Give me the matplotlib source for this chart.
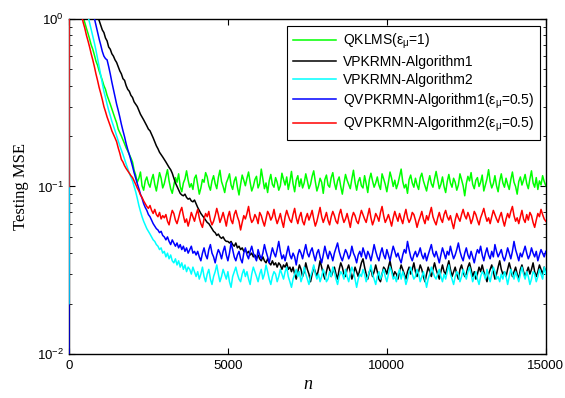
import numpy as np
import matplotlib
matplotlib.use("Agg")
import matplotlib.pyplot as plt

plt.rcParams['font.family'] = ['Liberation Sans', 'DejaVu Sans']
plt.rcParams['mathtext.fontset'] = 'custom'
plt.rcParams['mathtext.rm'] = 'Liberation Sans'
plt.rcParams['mathtext.it'] = 'Liberation Sans'
plt.rcParams['mathtext.bf'] = 'Liberation Sans:bold'

labels = ['QKLMS(ε$_{μ}$=1)', 'VPKRMN-Algorithm1', 'VPKRMN-Algorithm2',
          'QVPKRMN-Algorithm1(ε$_{μ}$=0.5)', 'QVPKRMN-Algorithm2(ε$_{μ}$=0.5)']

# values at n = 0, 10, then every 50 iterations up to 15000
qklms = [0.015, 5.0,
    4.0, 3.0, 2.5, 2.2, 1.9, 1.6, 1.35, 1.15,
    1.02, 0.95, 0.88, 0.82, 0.76, 0.70, 0.66, 0.61, 0.56, 0.53, 0.49, 0.46,
    0.43, 0.40, 0.38, 0.35, 0.33, 0.31, 0.29, 0.27, 0.255, 0.24,
    0.22, 0.21, 0.20, 0.19, 0.18, 0.17, 0.163, 0.155, 0.148, 0.14,
    0.125, 0.117, 0.106, 0.112, 0.122, 0.101, 0.095, 0.108, 0.114, 0.104,
    0.099, 0.110, 0.118, 0.103, 0.094, 0.107, 0.121, 0.112, 0.098, 0.104,
    0.115, 0.126, 0.108, 0.097, 0.091, 0.102, 0.113, 0.106, 0.119, 0.100,
    0.093, 0.105, 0.111, 0.124, 0.109, 0.099, 0.104, 0.096, 0.112, 0.117,
    0.103, 0.090, 0.098, 0.110, 0.106, 0.121, 0.114, 0.101, 0.095, 0.108,
    0.116, 0.104, 0.097, 0.113, 0.125, 0.107, 0.100, 0.092, 0.105, 0.111,
    0.119, 0.102, 0.096, 0.108, 0.114, 0.099, 0.089, 0.103, 0.117, 0.109,
    0.101, 0.112, 0.122, 0.106, 0.094, 0.100, 0.110, 0.115, 0.098, 0.104,
    0.127, 0.111, 0.097, 0.105, 0.092, 0.108, 0.118, 0.103, 0.099, 0.113,
    0.106, 0.095, 0.101, 0.120, 0.110, 0.102, 0.114, 0.096, 0.107, 0.123,
    0.104, 0.093, 0.109, 0.116, 0.100, 0.111, 0.098, 0.105, 0.119, 0.108,
    0.097, 0.103, 0.115, 0.124, 0.107, 0.094, 0.101, 0.112, 0.106, 0.091,
    0.110, 0.117, 0.102, 0.099, 0.113, 0.121, 0.105, 0.096, 0.108, 0.114,
    0.100, 0.090, 0.104, 0.118, 0.109, 0.103, 0.097, 0.111, 0.125, 0.106,
    0.095, 0.107, 0.113, 0.101, 0.098, 0.116, 0.104, 0.092, 0.110, 0.120,
    0.108, 0.099, 0.105, 0.114, 0.102, 0.096, 0.119, 0.111, 0.103, 0.093,
    0.106, 0.122, 0.112, 0.100, 0.109, 0.097, 0.104, 0.115, 0.127, 0.107,
    0.098, 0.103, 0.091, 0.110, 0.117, 0.105, 0.099, 0.112, 0.102, 0.096,
    0.113, 0.120, 0.108, 0.101, 0.094, 0.106, 0.116, 0.104, 0.099, 0.111,
    0.123, 0.109, 0.097, 0.103, 0.114, 0.100, 0.092, 0.107, 0.118, 0.105,
    0.099, 0.112, 0.106, 0.095, 0.102, 0.119, 0.110, 0.101, 0.088, 0.104,
    0.115, 0.108, 0.121, 0.103, 0.097, 0.109, 0.113, 0.100, 0.106, 0.117,
    0.094, 0.102, 0.111, 0.126, 0.107, 0.098, 0.104, 0.116, 0.101, 0.093,
    0.108, 0.119, 0.105, 0.099, 0.112, 0.103, 0.096, 0.110, 0.122, 0.106,
    0.100, 0.090, 0.107, 0.114, 0.102, 0.109, 0.118, 0.104, 0.097, 0.111,
    0.124, 0.105, 0.099, 0.113, 0.096, 0.108, 0.102, 0.116, 0.107, 0.101]

alg1 = [0.012, 5.0,
    5.0, 4.3, 3.8, 3.3, 2.9, 2.6, 2.3, 2.1, 1.9, 1.75,
    1.6, 1.48, 1.38, 1.28, 1.2, 1.13, 1.07, 1.02, 0.98, 0.92,
    0.86, 0.83, 0.77, 0.74, 0.68, 0.66, 0.62, 0.60, 0.57, 0.55,
    0.52, 0.49, 0.47, 0.44, 0.43, 0.40, 0.38, 0.37, 0.35, 0.34,
    0.32, 0.31, 0.30, 0.285, 0.27, 0.26, 0.25, 0.24, 0.23, 0.22,
    0.215, 0.205, 0.195, 0.185, 0.175, 0.168, 0.16, 0.155, 0.15, 0.145,
    0.14, 0.135, 0.13, 0.126, 0.12, 0.112, 0.105, 0.10, 0.095, 0.091,
    0.089, 0.088, 0.090, 0.086, 0.084, 0.085, 0.082, 0.081, 0.083, 0.079,
    0.075, 0.072, 0.069, 0.067, 0.065, 0.063, 0.061, 0.060, 0.058, 0.056,
    0.054, 0.053, 0.051, 0.052, 0.050, 0.049, 0.050, 0.048, 0.047, 0.047,
    0.046, 0.047, 0.045, 0.044, 0.046, 0.043, 0.044, 0.042, 0.043, 0.041,
    0.042, 0.040, 0.041, 0.039, 0.040, 0.038, 0.039, 0.037, 0.039, 0.037,
    0.036, 0.038, 0.036, 0.035, 0.037, 0.035, 0.034, 0.036, 0.034, 0.035,
    0.033, 0.035, 0.034, 0.032, 0.034, 0.033, 0.035, 0.032, 0.033, 0.031,
    0.033, 0.030, 0.028, 0.031, 0.034, 0.032, 0.029, 0.031, 0.035, 0.032,
    0.030, 0.027, 0.030, 0.033, 0.031, 0.029, 0.032, 0.036, 0.033, 0.030,
    0.028, 0.031, 0.034, 0.032, 0.029, 0.031, 0.033, 0.030, 0.028, 0.032,
    0.035, 0.033, 0.030, 0.029, 0.032, 0.034, 0.031, 0.028, 0.030, 0.033,
    0.031, 0.029, 0.032, 0.035, 0.037, 0.033, 0.030, 0.028, 0.031, 0.032,
    0.029, 0.031, 0.034, 0.031, 0.028, 0.027, 0.030, 0.033, 0.032, 0.030,
    0.033, 0.036, 0.032, 0.029, 0.031, 0.030, 0.028, 0.031, 0.034, 0.032,
    0.030, 0.028, 0.031, 0.033, 0.030, 0.032, 0.035, 0.031, 0.029, 0.031,
    0.034, 0.032, 0.029, 0.027, 0.030, 0.033, 0.031, 0.029, 0.032, 0.035,
    0.032, 0.030, 0.028, 0.031, 0.034, 0.031, 0.030, 0.033, 0.036, 0.032,
    0.029, 0.031, 0.033, 0.030, 0.028, 0.032, 0.034, 0.031, 0.029, 0.030,
    0.033, 0.035, 0.032, 0.029, 0.031, 0.028, 0.030, 0.033, 0.031, 0.034,
    0.031, 0.029, 0.027, 0.030, 0.032, 0.034, 0.031, 0.028, 0.030, 0.033,
    0.036, 0.032, 0.030, 0.031, 0.029, 0.032, 0.035, 0.032, 0.029, 0.031,
    0.033, 0.030, 0.028, 0.032, 0.034, 0.031, 0.029, 0.031, 0.033, 0.030,
    0.032, 0.035, 0.031, 0.029, 0.031, 0.034, 0.032, 0.030, 0.033, 0.031]

alg2 = [0.020, 5.0,
    4.5, 3.6, 3.0, 2.5, 2.1, 1.8, 1.6, 1.45, 1.3, 1.2, 1.1, 1.04,
    0.95, 0.87, 0.79, 0.72, 0.65, 0.58, 0.52, 0.46,
    0.41, 0.37, 0.34, 0.31, 0.285, 0.265, 0.245, 0.23, 0.215, 0.20,
    0.187, 0.175, 0.165, 0.155, 0.145, 0.136, 0.128, 0.12, 0.114, 0.108,
    0.100, 0.093, 0.085, 0.077, 0.071, 0.066, 0.062, 0.059, 0.056, 0.054,
    0.052, 0.050, 0.048, 0.047, 0.045, 0.044, 0.042, 0.043, 0.040, 0.041,
    0.038, 0.040, 0.037, 0.039, 0.036, 0.035, 0.037, 0.034, 0.036, 0.033,
    0.035, 0.032, 0.034, 0.031, 0.033, 0.032, 0.030, 0.033, 0.031, 0.029,
    0.031, 0.028, 0.030, 0.033, 0.029, 0.027, 0.030, 0.032, 0.028, 0.026,
    0.029, 0.031, 0.034, 0.030, 0.027, 0.029, 0.032, 0.030, 0.028, 0.031,
    0.027, 0.025, 0.029, 0.031, 0.033, 0.030, 0.028, 0.027, 0.030, 0.032,
    0.029, 0.031, 0.028, 0.026, 0.030, 0.033, 0.031, 0.029, 0.027, 0.030,
    0.032, 0.028, 0.030, 0.034, 0.031, 0.028, 0.026, 0.029, 0.031, 0.030,
    0.027, 0.029, 0.032, 0.030, 0.028, 0.031, 0.033, 0.029, 0.027, 0.025,
    0.028, 0.030, 0.032, 0.029, 0.031, 0.027, 0.029, 0.033, 0.030, 0.028,
    0.026, 0.029, 0.031, 0.034, 0.030, 0.028, 0.030, 0.027, 0.029, 0.032,
    0.030, 0.027, 0.028, 0.031, 0.029, 0.033, 0.031, 0.028, 0.026, 0.029,
    0.031, 0.030, 0.028, 0.032, 0.029, 0.027, 0.030, 0.033, 0.031, 0.028,
    0.025, 0.028, 0.030, 0.029, 0.032, 0.030, 0.027, 0.029, 0.031, 0.034,
    0.030, 0.028, 0.026, 0.029, 0.031, 0.028, 0.030, 0.032, 0.029, 0.027,
    0.030, 0.033, 0.031, 0.028, 0.029, 0.027, 0.030, 0.032, 0.028, 0.031,
    0.029, 0.026, 0.028, 0.031, 0.033, 0.030, 0.028, 0.029, 0.032, 0.030,
    0.027, 0.029, 0.031, 0.028, 0.025, 0.028, 0.030, 0.033, 0.031, 0.029,
    0.028, 0.030, 0.032, 0.029, 0.027, 0.030, 0.028, 0.031, 0.034, 0.030,
    0.028, 0.026, 0.029, 0.031, 0.030, 0.027, 0.029, 0.032, 0.030, 0.028,
    0.031, 0.033, 0.030, 0.027, 0.029, 0.031, 0.028, 0.026, 0.029, 0.031,
    0.030, 0.028, 0.032, 0.029, 0.027, 0.030, 0.033, 0.031, 0.028, 0.029,
    0.027, 0.030, 0.028, 0.031, 0.029, 0.026, 0.029, 0.032, 0.030, 0.028,
    0.031, 0.029, 0.027, 0.030, 0.033, 0.030, 0.028, 0.031, 0.029, 0.026,
    0.028, 0.031, 0.030, 0.027, 0.029, 0.032, 0.030, 0.028, 0.033, 0.030]

qalg1 = [0.005, 5.0,
    4.8, 4.0, 3.4, 2.9, 2.5, 2.2, 1.95, 1.75, 1.6, 1.45, 1.35, 1.25, 1.17, 1.1, 1.05, 1.01,
    0.92, 0.84, 0.76, 0.70,
    0.64, 0.60, 0.58, 0.57, 0.52, 0.47, 0.42, 0.38, 0.345, 0.31,
    0.285, 0.26, 0.235, 0.215, 0.198, 0.18, 0.166, 0.155, 0.143, 0.132,
    0.121, 0.112, 0.104, 0.097, 0.090, 0.085, 0.079, 0.075, 0.072, 0.068,
    0.066, 0.063, 0.060, 0.058, 0.056, 0.055, 0.053, 0.054, 0.051, 0.050,
    0.048, 0.050, 0.047, 0.045, 0.048, 0.046, 0.044, 0.046, 0.043, 0.045,
    0.042, 0.044, 0.041, 0.043, 0.040, 0.042, 0.044, 0.040, 0.041, 0.039,
    0.041, 0.038, 0.036, 0.040, 0.043, 0.039, 0.037, 0.042, 0.045, 0.040,
    0.038, 0.035, 0.039, 0.042, 0.040, 0.037, 0.041, 0.044, 0.039, 0.036,
    0.040, 0.046, 0.042, 0.038, 0.036, 0.039, 0.041, 0.037, 0.035, 0.040,
    0.043, 0.039, 0.037, 0.041, 0.044, 0.040, 0.038, 0.036, 0.042, 0.039,
    0.037, 0.040, 0.045, 0.041, 0.038, 0.035, 0.039, 0.043, 0.040, 0.038,
    0.042, 0.047, 0.041, 0.037, 0.039, 0.036, 0.040, 0.044, 0.039, 0.037,
    0.040, 0.038, 0.034, 0.039, 0.042, 0.040, 0.037, 0.041, 0.045, 0.040,
    0.038, 0.041, 0.043, 0.039, 0.036, 0.040, 0.042, 0.038, 0.035, 0.039,
    0.044, 0.040, 0.037, 0.041, 0.039, 0.036, 0.040, 0.043, 0.046, 0.041,
    0.038, 0.036, 0.039, 0.042, 0.040, 0.037, 0.039, 0.044, 0.040, 0.038,
    0.035, 0.039, 0.041, 0.038, 0.043, 0.040, 0.037, 0.041, 0.039, 0.036,
    0.040, 0.045, 0.041, 0.038, 0.036, 0.040, 0.043, 0.039, 0.037, 0.042,
    0.039, 0.036, 0.040, 0.044, 0.041, 0.038, 0.040, 0.037, 0.035, 0.039,
    0.042, 0.040, 0.047, 0.042, 0.038, 0.036, 0.039, 0.041, 0.038, 0.040,
    0.043, 0.039, 0.037, 0.040, 0.036, 0.039, 0.042, 0.045, 0.040, 0.038,
    0.041, 0.038, 0.035, 0.039, 0.043, 0.040, 0.037, 0.041, 0.039, 0.044,
    0.040, 0.037, 0.039, 0.042, 0.046, 0.041, 0.038, 0.036, 0.040, 0.043,
    0.039, 0.037, 0.041, 0.038, 0.035, 0.039, 0.042, 0.040, 0.044, 0.039,
    0.036, 0.040, 0.043, 0.039, 0.037, 0.041, 0.038, 0.045, 0.041, 0.038,
    0.040, 0.042, 0.038, 0.036, 0.039, 0.043, 0.040, 0.037, 0.041, 0.047,
    0.042, 0.039, 0.036, 0.040, 0.038, 0.041, 0.044, 0.040, 0.037, 0.039,
    0.043, 0.040, 0.038, 0.041, 0.036, 0.039, 0.042, 0.040, 0.038, 0.041]

qalg2 = [0.100, 5.0,
    4.0, 3.2, 2.6, 2.1, 1.75, 1.45, 1.22, 1.05,
    0.95, 0.88, 0.80, 0.74, 0.68, 0.62, 0.57, 0.52, 0.47, 0.43, 0.39, 0.36,
    0.33, 0.30, 0.28, 0.26, 0.245, 0.23, 0.215, 0.205, 0.195, 0.185,
    0.170, 0.158, 0.145, 0.140, 0.133, 0.128, 0.124, 0.120, 0.116, 0.113,
    0.108, 0.103, 0.098, 0.094, 0.089, 0.086, 0.082, 0.079, 0.076, 0.074,
    0.077, 0.072, 0.069, 0.073, 0.068, 0.066, 0.070, 0.064, 0.067, 0.065,
    0.068, 0.062, 0.059, 0.066, 0.072, 0.069, 0.063, 0.060, 0.065, 0.071,
    0.075, 0.067, 0.061, 0.064, 0.058, 0.063, 0.070, 0.066, 0.062, 0.068,
    0.073, 0.065, 0.060, 0.057, 0.064, 0.069, 0.066, 0.071, 0.063, 0.059,
    0.062, 0.067, 0.074, 0.068, 0.061, 0.065, 0.070, 0.064, 0.058, 0.066,
    0.071, 0.063, 0.060, 0.068, 0.072, 0.066, 0.062, 0.055, 0.061, 0.067,
    0.064, 0.069, 0.076, 0.066, 0.061, 0.063, 0.068, 0.065, 0.060, 0.070,
    0.067, 0.062, 0.058, 0.064, 0.071, 0.068, 0.063, 0.066, 0.073, 0.065,
    0.060, 0.064, 0.069, 0.062, 0.057, 0.066, 0.072, 0.067, 0.063, 0.061,
    0.068, 0.074, 0.065, 0.060, 0.066, 0.070, 0.062, 0.059, 0.065, 0.069,
    0.063, 0.067, 0.072, 0.064, 0.058, 0.062, 0.068, 0.075, 0.066, 0.061,
    0.065, 0.070, 0.063, 0.059, 0.066, 0.071, 0.067, 0.062, 0.060, 0.068,
    0.073, 0.066, 0.061, 0.064, 0.069, 0.063, 0.057, 0.065, 0.070, 0.067,
    0.062, 0.060, 0.066, 0.072, 0.068, 0.064, 0.061, 0.067, 0.074, 0.065,
    0.059, 0.063, 0.069, 0.066, 0.062, 0.070, 0.076, 0.067, 0.061, 0.064,
    0.068, 0.063, 0.058, 0.065, 0.071, 0.066, 0.062, 0.069, 0.064, 0.060,
    0.067, 0.073, 0.065, 0.061, 0.064, 0.070, 0.068, 0.063, 0.057, 0.062,
    0.066, 0.071, 0.064, 0.060, 0.067, 0.063, 0.069, 0.075, 0.066, 0.062,
    0.059, 0.065, 0.070, 0.064, 0.061, 0.068, 0.072, 0.066, 0.063, 0.067,
    0.061, 0.056, 0.063, 0.069, 0.065, 0.062, 0.068, 0.073, 0.067, 0.064,
    0.070, 0.066, 0.060, 0.064, 0.071, 0.068, 0.063, 0.059, 0.065, 0.069,
    0.074, 0.067, 0.062, 0.065, 0.060, 0.066, 0.072, 0.068, 0.064, 0.061,
    0.066, 0.070, 0.063, 0.058, 0.064, 0.069, 0.065, 0.071, 0.076, 0.067,
    0.062, 0.065, 0.060, 0.066, 0.072, 0.064, 0.061, 0.068, 0.063, 0.070,
    0.067, 0.061, 0.057, 0.063, 0.069, 0.066, 0.073, 0.068, 0.064, 0.062]

series = [qklms, alg1, alg2, qalg1, qalg2]
colors = ['#00ff00', '#000000', '#00ffff', '#0000ff', '#ff0000']
zorders = [2, 3, 4, 3.5, 5]

fig = plt.figure(figsize=(5.65, 3.98), dpi=100)
ax = fig.add_axes([0.122, 0.1106, 0.844, 0.8417])

handles = []
for vals, c, lab, z in zip(series, colors, labels, zorders):
    n = np.concatenate(([0, 10], np.arange(1, len(vals) - 1) * 50))
    h, = ax.plot(n, vals, color=c, lw=1.1, label=lab, zorder=z)
    handles.append(h)

ax.set_yscale('log')
ax.set_xlim(0, 15000)
ax.set_ylim(1e-2, 1e0)
ax.set_xticks([0, 5000, 10000, 15000])
ax.set_xticklabels(['0', '5000', '10000', '15000'])
ax.tick_params(which='both', direction='in', top=True, right=True, labelsize=9.5)
ax.tick_params(which='major', length=4, width=0.8)
ax.tick_params(which='minor', length=2.2, width=0.6)
ax.tick_params(axis='x', pad=4)
for s in ax.spines.values():
    s.set_linewidth(1.0)

ax.set_ylabel('Testing MSE', family='Liberation Serif', fontsize=12, labelpad=6)
ax.set_xlabel('n', family='Liberation Serif', style='italic', fontsize=13, labelpad=3)

leg = ax.legend(handles=handles, loc='upper right', bbox_to_anchor=(0.987, 0.979),
                borderaxespad=0, fontsize=10, frameon=True, fancybox=False,
                edgecolor='black', framealpha=1, handlelength=3.1,
                handletextpad=0.5, labelspacing=0.3, borderpad=0.4)
leg.get_frame().set_linewidth(0.8)

fig.savefig('out.png', dpi=100)
